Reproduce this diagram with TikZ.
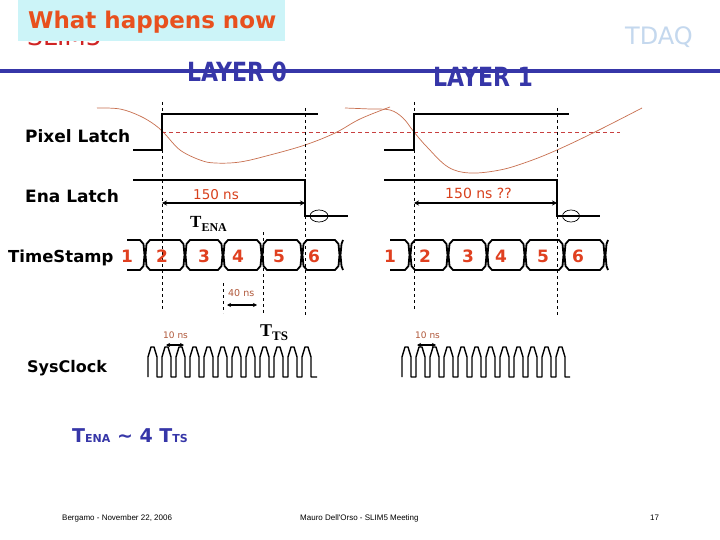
\documentclass[tikz,border=0pt]{standalone}
\usepackage{fontspec}
\setmainfont{DejaVu Sans}
\newfontfamily\tms{Liberation Serif}
\newfontfamily\arl{Liberation Sans}
\usetikzlibrary{arrows.meta}
\definecolor{titleor}{HTML}{E8501E}
\definecolor{cyanbox}{HTML}{CCF4F8}
\definecolor{slimred}{HTML}{D02424}
\definecolor{tdaq}{HTML}{C4D8EE}
\definecolor{layblue}{HTML}{3636A8}
\definecolor{numred}{HTML}{E04020}
\definecolor{nsred}{HTML}{D8401C}
\definecolor{smallns}{HTML}{B0583A}
\definecolor{curvebr}{HTML}{C87050}
\definecolor{refred}{HTML}{C84040}
\begin{document}
\begin{tikzpicture}[x=1pt,y=-1pt,
  lbl/.style={anchor=base west,inner sep=0pt,font=\fontsize{17}{17}\selectfont\bfseries},
  num/.style={anchor=base,inner sep=0pt,text=numred,font=\fontsize{17}{17}\selectfont\bfseries},
  layer/.style={anchor=base west,inner sep=0pt,text=layblue,font=\fontsize{22}{22}\selectfont\bfseries},
  nslbl/.style={anchor=base west,inner sep=0pt,text=nsred,font=\fontsize{13.5}{14}\selectfont},
  smalllbl/.style={anchor=base west,inner sep=0pt,text=smallns,font=\fontsize{9.5}{10}\selectfont},
  foot/.style={anchor=base west,inner sep=0pt,font=\arl\fontsize{8}{8}\selectfont},
  sig/.style={line width=2.4pt,line join=miter},
  bus/.style={line width=1.8pt,line join=round},
  clk/.style={line width=1.4pt,line join=round},
  vdash/.style={line width=0.8pt,dash pattern=on 3pt off 3pt},
  dimarr/.style={line width=1.8pt,{Stealth[length=5pt,width=5pt]}-{Stealth[length=5pt,width=5pt]}},
  smallarr/.style={line width=1.5pt,{Stealth[length=4pt,width=4pt]}-{Stealth[length=4pt,width=4pt]}},
  resp/.style={curvebr,line width=0.7pt},
  thr/.style={refred,line width=0.7pt,dash pattern=on 4pt off 3pt}
]
\useasboundingbox (0,0) rectangle (720,540);
\fill[white] (0,0) rectangle (720,540);

% header
\node[anchor=base west,inner sep=0pt,text=slimred,font=\fontsize{25}{25}\selectfont] (slim) at (27,46) {SLIM5};
\fill[cyanbox] (18,0) rectangle (285,41);
\node[anchor=base west,inner sep=0pt,text=titleor,font=\fontsize{23}{23}\selectfont\bfseries] (title) at (28,29) {What happens now};
\node[anchor=base west,inner sep=0pt,text=tdaq,font=\fontsize{24}{24}\selectfont] (tdaq) at (625,45) {TDAQ};
\draw[layblue,line width=4pt] (0,71.5) -- (720,71.5);
\node[layer] (l0) at (187,82) {\scalebox{1}[1.2]{LAYER 0}};
\node[layer] (l1) at (433,87) {\scalebox{1}[1.2]{LAYER 1}};

% row labels
\node[lbl] (pix) at (25,143) {Pixel Latch};
\node[lbl] (ena) at (25,203) {Ena Latch};
\node[lbl,font=\fontsize{16.5}{17}\selectfont\bfseries] (ts) at (8,262) {TimeStamp};
\node[lbl,font=\fontsize{16}{17}\selectfont\bfseries] (clkl) at (27,372) {SysClock};

% analog response curves and threshold
\draw[resp] plot[smooth,tension=0.6] coordinates {(97,108) (120,109) (140,116) (155,125) (165,134) (180,150) (200,160) (215,163) (240,162) (270,155) (305,145) (335,133) (360,119) (390,107)};
\draw[resp] plot[smooth,tension=0.6] coordinates {(345,108) (370,109) (390,110) (403,118) (414,132) (427,147) (448,167) (470,173) (500,170) (527,162) (557,150) (595,132) (642,108)};
\draw[thr] (162,132) -- (620,132);

% pixel latch
\draw[sig] (133,150) -- (162,150) -- (162,114) -- (318,114);
\draw[sig] (384,150) -- (414,150) -- (414,114) -- (569,114);
% ena latch
\draw[sig] (133,180) -- (305,180) -- (305,216) -- (348,216);
\draw[sig] (384,180) -- (557,180) -- (557,216) -- (600,216);
\draw[line width=0.7pt] (319,216) ellipse [x radius=9,y radius=6];
\draw[line width=0.7pt] (571,216) ellipse [x radius=8.5,y radius=6];

% dashed markers
\draw[vdash] (162,102) -- (162,310);
\draw[vdash] (305,108) -- (305,315);
\draw[vdash] (223,283) -- (223,313);
\draw[vdash] (263,232) -- (263,315);
\draw[vdash] (414,102) -- (414,310);
\draw[vdash] (557,108) -- (557,315);

% 150 ns dimension
\coordinate (d1a) at (162,203); \coordinate (d1b) at (305,203);
\coordinate (d2a) at (414,203); \coordinate (d2b) at (557,203);
\draw[dimarr] (d1a) -- (d1b);
\draw[dimarr] (d2a) -- (d2b);
\node[nslbl] (n150a) at (193,200) {150 ns};
\node[nslbl,font=\fontsize{14}{14}\selectfont] (n150b) at (445,199) {150 ns ??};
\node[anchor=base west,inner sep=0pt,font=\tms\bfseries\fontsize{17}{17}\selectfont] (tena) at (190,228) {T\raisebox{-4pt}{\fontsize{12}{12}\selectfont ENA}};

% timestamp bus
\foreach \a/\b in {145/185,185/223,223/262,262/302,302/340,410/448,448/487,487/525,525/564,564/605}{
  \draw[bus] (\a+0.5,255) -- (\a+1.5,244) -- (\a+5,240) -- (\b-5,240) -- (\b-1.5,244) -- (\b-0.5,255) -- (\b-1.5,266) -- (\b-5,270) -- (\a+5,270) -- (\a+1.5,266) -- cycle;
}
\foreach \s/\b in {127/145,390/410}{
  \draw[bus] (\s,240) -- (\b-5,240) -- (\b-1.5,244) -- (\b-0.5,255) -- (\b-1.5,266) -- (\b-5,270) -- (\s,270);
}
\foreach \e in {340,605}{
  \draw[bus] (\e+3,240) -- (\e+1.5,244) -- (\e+0.5,255) -- (\e+1.5,266) -- (\e+3,270);
}
\foreach \x/\t [count=\i] in {127/1,162/2,204/3,238/4,279/5,314/6,390/1,425/2,468/3,501/4,543/5,578/6}{
  \node[num] (ts\i) at (\x,262) {\t};
}

% 40 ns
\node[smalllbl] (n40) at (228,296) {40 ns};
\coordinate (f1a) at (227,305); \coordinate (f1b) at (257,305);
\draw[smallarr] (f1a) -- (f1b);
\node[anchor=base west,inner sep=0pt,font=\tms\bfseries\fontsize{18}{18}\selectfont] (tts) at (260,336) {T\raisebox{-4pt}{\fontsize{13}{13}\selectfont TS}};

% system clock
\draw[clk] (148,377) \foreach \k in {0,...,11}{ -- ({148+14*\k},377) -- ({148+14*\k},357) -- ({151+14*\k},347) -- ({154+14*\k},347) -- ({157+14*\k},357) -- ({157+14*\k},377) } -- (317,377);
\draw[clk] (402,377) \foreach \k in {0,...,11}{ -- ({402+14*\k},377) -- ({402+14*\k},357) -- ({405+14*\k},347) -- ({408+14*\k},347) -- ({411+14*\k},357) -- ({411+14*\k},377) } -- (570,377);
\node[smalllbl,font=\fontsize{9}{10}\selectfont] (n10a) at (163,338) {10 ns};
\node[smalllbl,font=\fontsize{9}{10}\selectfont] (n10b) at (415,338) {10 ns};
\coordinate (c1a) at (166,345); \coordinate (c1b) at (184,345);
\coordinate (c2a) at (417,345); \coordinate (c2b) at (436,345);
\draw[smallarr,line width=1.2pt] (c1a) -- (c1b);
\draw[smallarr,line width=1.2pt] (c2a) -- (c2b);

% relation
\node[anchor=base west,inner sep=0pt,text=layblue,font=\fontsize{19}{19}\selectfont\bfseries] (rel) at (72,442) {T{\fontsize{11}{11}\selectfont ENA} \textasciitilde{} 4 T{\fontsize{11}{11}\selectfont TS}};

% footer
\node[foot] (f1) at (62,520) {Bergamo - November 22, 2006};
\node[foot] (f2) at (300,520) {Mauro Dell'Orso - SLIM5 Meeting};
\node[foot] (f3) at (650,520) {17};
\end{tikzpicture}
\end{document}
